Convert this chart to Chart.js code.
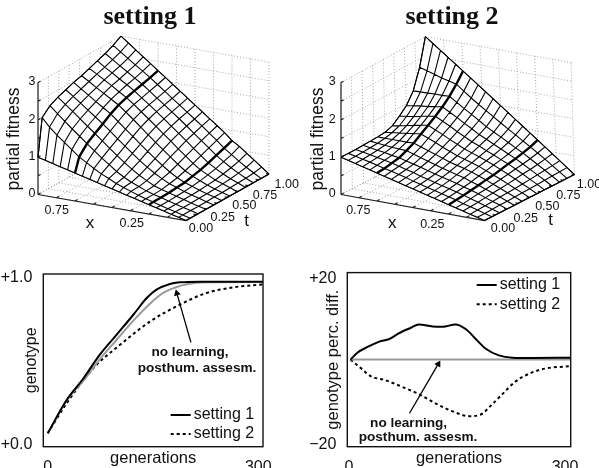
<!DOCTYPE html>
<html>
<head>
<meta charset="utf-8">
<title>partial fitness</title>
<script src="https://cdn.jsdelivr.net/npm/chart.js@4"></script>
<style>
    html, body { margin: 0; padding: 0; background: #fff; overflow: hidden; }
    canvas { position: absolute; }
</style>
</head>
<body>
<canvas id="surface1" width="299" height="240" style="left:0;top:0"></canvas>
<canvas id="surface2" width="300" height="240" style="left:299px;top:0"></canvas>
<canvas id="genotype" width="299" height="208" style="left:0;top:260px"></canvas>
<canvas id="percDiff" width="300" height="208" style="left:299px;top:260px"></canvas>
<script>
// x values of the surface lines, the same for both settings
let xGrid = [1, .95, .9, .85, .8, .75, .7, .65, .6, .55, .5, .45, .4, .35, .3, .25, .2, .15, .1, .05, 0];
let heavyX = [.75, .25];

// setting 1: one row per t line, one value per x line
let tGrid1 = [0, .05, .145, .24, .335, .43, .525, .62, .715, .81, .905, 1];
let fitness1 = [
    [1, .95, .9, .85, .8, .75, .7, .65, .6, .55, .5, .45, .4, .35, .3, .25, .2, .15, .1, .05, 0],
    [2, 1.78, 1.6, 1.44, 1.28, 1.12, 1, .88, .77, .68, .58, .51, .44, .37, .31, .26, .2, .15, .1, .05, 0],
    [2.2, 2.02, 1.85, 1.68, 1.52, 1.36, 1.2, 1.04, .9, .75, .63, .53, .45, .37, .31, .26, .2, .15, .1, .05, 0],
    [2.31, 2.15, 2, 1.83, 1.67, 1.51, 1.35, 1.18, 1.02, .87, .73, .6, .49, .39, .32, .27, .21, .16, .1, .05, 0],
    [2.39, 2.25, 2.1, 1.95, 1.8, 1.65, 1.49, 1.32, 1.16, 1, .84, .7, .57, .46, .36, .29, .22, .16, .11, .05, 0],
    [2.47, 2.33, 2.2, 2.06, 1.93, 1.8, 1.63, 1.46, 1.3, 1.13, .97, .81, .66, .52, .4, .31, .24, .17, .11, .06, 0],
    [2.53, 2.41, 2.28, 2.16, 2.04, 1.92, 1.76, 1.6, 1.43, 1.26, 1.09, .93, .77, .61, .47, .36, .27, .19, .12, .06, 0],
    [2.61, 2.49, 2.37, 2.25, 2.12, 2, 1.85, 1.69, 1.53, 1.37, 1.2, 1.04, .87, .71, .55, .41, .31, .21, .14, .07, 0],
    [2.69, 2.56, 2.44, 2.31, 2.19, 2.06, 1.91, 1.76, 1.61, 1.45, 1.29, 1.13, .97, .8, .64, .48, .36, .25, .16, .08, 0],
    [2.77, 2.64, 2.51, 2.38, 2.25, 2.12, 1.97, 1.82, 1.67, 1.52, 1.37, 1.21, 1.05, .89, .73, .56, .43, .3, .19, .09, 0],
    [2.87, 2.73, 2.59, 2.45, 2.32, 2.18, 2.03, 1.88, 1.73, 1.58, 1.43, 1.28, 1.13, .97, .81, .64, .5, .36, .23, .11, 0],
    [3, 2.85, 2.7, 2.55, 2.4, 2.25, 2.1, 1.95, 1.8, 1.65, 1.5, 1.35, 1.2, 1.05, .9, .72, .6, .45, .3, .15, 0]
];

// setting 2
let tGrid2 = [0, .083, .167, .25, .333, .417, .5, .583, .667, .75, .833, .917, 1];
let fitness2 = [
    [1, .95, .9, .85, .8, .75, .7, .65, .6, .55, .5, .45, .4, .35, .3, .25, .2, .15, .1, .05, 0],
    [1, .96, .91, .87, .82, .77, .73, .68, .63, .57, .52, .47, .42, .37, .32, .27, .21, .16, .11, .05, 0],
    [1, .97, .93, .89, .85, .81, .76, .71, .66, .6, .55, .5, .45, .4, .35, .3, .24, .18, .12, .06, 0],
    [1.01, .98, .95, .92, .88, .85, .8, .75, .7, .64, .59, .54, .49, .44, .38, .33, .27, .2, .13, .07, 0],
    [1.02, 1, .98, .96, .95, .94, .88, .82, .76, .7, .64, .59, .54, .49, .42, .36, .29, .22, .15, .07, 0],
    [1.03, 1.03, 1.03, 1.03, 1.03, 1.04, .97, .9, .84, .77, .7, .65, .6, .54, .47, .4, .32, .24, .16, .08, 0],
    [1.05, 1.08, 1.1, 1.13, 1.16, 1.18, 1.1, 1.02, .93, .85, .77, .71, .65, .59, .51, .43, .35, .26, .17, .09, 0],
    [1.12, 1.16, 1.2, 1.24, 1.28, 1.31, 1.22, 1.13, 1.03, .94, .85, .78, .71, .64, .56, .47, .38, .29, .19, .1, 0],
    [1.28, 1.31, 1.34, 1.38, 1.42, 1.45, 1.35, 1.25, 1.14, 1.04, .94, .86, .77, .69, .6, .52, .42, .32, .21, .11, 0],
    [1.46, 1.49, 1.52, 1.54, 1.57, 1.6, 1.49, 1.38, 1.26, 1.15, 1.03, .94, .84, .75, .65, .56, .45, .34, .23, .12, 0],
    [1.75, 1.76, 1.76, 1.77, 1.77, 1.78, 1.65, 1.52, 1.4, 1.27, 1.14, 1.03, .93, .82, .71, .61, .49, .37, .25, .13, 0],
    [2.28, 2.22, 2.16, 2.1, 2.05, 2, 1.85, 1.7, 1.56, 1.43, 1.3, 1.17, 1.04, .92, .79, .67, .54, .41, .27, .14, 0],
    [3, 2.85, 2.7, 2.55, 2.4, 2.25, 2.1, 1.95, 1.8, 1.65, 1.5, 1.35, 1.2, 1.05, .9, .75, .6, .45, .3, .15, 0]
];

// box ticks of the 3D plots
let xTicks = [1, .875, .75, .625, .5, .375, .25, .125, 0];
let tTicks = [0, .125, .25, .375, .5, .625, .75, .875, 1];
let zTicks = [0, .5, 1, 1.5, 2, 2.5, 3];

// bottom left: genotype
let genSolid = [0, 27, 51, 74, 98, 122, 141, 155, 174, 188, 217, 307];
let valSolid = [.07, .27, .40, .54, .66, .78, .88, .93, .964, .974, .978, .978];
let genDotted = [0, 27, 65, 103, 146, 188, 226, 264, 307];
let valDotted = [.07, .25, .46, .60, .74, .84, .91, .944, .962];
let genGrey = [0, 27, 51, 74, 98, 122, 146, 165, 181, 198, 226, 307];
let valGrey = [.07, .267, .385, .513, .629, .745, .848, .912, .942, .962, .974, .976];

// bottom right: percentage difference
let diffGenSolid = [2, 12, 25, 42, 56, 69, 86, 97, 116, 130, 148, 162, 176, 190, 208, 227, 255, 308];
let diffSolid = [.43, 2.17, 3.44, 4.79, 5.42, 6.77, 8.12, 8.91, 8.44, 8.35, 8.91, 7.81, 5.42, 3.05, 1.46, .91, .83, .91];
let diffGenDotted = [2, 16, 30, 51, 74, 97, 120, 143, 167, 183, 197, 213, 231, 250, 273, 308];
let diffDotted = [.43, -1.55, -3.53, -4.56, -6.14, -7.89, -10.1, -12, -13.2, -12.8, -10.66, -7.89, -4.87, -2.97, -1.7, -1.15];
let diffGenGrey = [2, 308];
let diffGrey = [.44, .44];

let FONT = "'Liberation Sans', Arial, sans-serif";

// setup of the two views
let view1 = { x0: 38, y0: 194.5, ux: 148, uy: 26, tx: 83, ty: -46.5, zy: 37.3, tz: 0, uz: 0 };
let view2 = { x0: 42, y0: 194.5, ux: 143.4, uy: 26, tx: 90, ty: -46, zy: 37.3, tz: -1.87, uz: .77 };

function project(view, x, t, z) {
    let u = 1 - x;
    return {
        x: view.x0 + u * (view.ux + view.uz * z) + t * (view.tx + view.tz * z),
        y: view.y0 + u * view.uy + t * view.ty - z * view.zy
    };
}

function gap() {
    return { x: NaN, y: NaN };
}

function creaSuperficie(id, view, tGrid, fitness, title, titleX, labels) {
    let walls = [], thin = [], heavy = [], axes = [];

    // dotted walls and floor
    xTicks.forEach(function (x) {
        walls.push(project(view, x, 1, 0), project(view, x, 1, 3), gap());
        walls.push(project(view, x, 0, 0), project(view, x, 1, 0), gap());
    });
    tTicks.forEach(function (t) {
        walls.push(project(view, 1, t, 0), project(view, 1, t, 3), gap());
        walls.push(project(view, 1, t, 0), project(view, 0, t, 0), gap());
    });
    zTicks.forEach(function (z) {
        walls.push(project(view, 1, 0, z), project(view, 1, 1, z), project(view, 0, 1, z), gap());
    });

    // black box axes with their ticks
    axes.push(project(view, 1, 0, 0), project(view, 1, 0, 3), gap());
    axes.push(project(view, 1, 0, 0), project(view, 0, 0, 0), project(view, 0, 1, 0), gap());
    zTicks.forEach(function (z) {
        axes.push(project(view, 1, 0, z), project(view, 1, .03, z), gap());
    });
    xTicks.forEach(function (x) {
        axes.push(project(view, x, 0, 0), project(view, x, .03, 0), gap());
    });
    tTicks.forEach(function (t) {
        axes.push(project(view, 0, t, 0), project(view, .02, t, 0), gap());
    });

    // surface lines
    fitness.forEach(function (row, i) {
        row.forEach(function (z, j) {
            thin.push(project(view, xGrid[j], tGrid[i], z));
        });
        thin.push(gap());
    });
    xGrid.forEach(function (x, j) {
        let line = fitness.map(function (row, i) {
            return project(view, x, tGrid[i], row[j]);
        });
        let target = heavyX.indexOf(x) >= 0 ? heavy : thin;
        target.push.apply(target, line);
        target.push(gap());
    });

    // outline of the surface, only to hide the walls behind it
    let last = fitness.length - 1, upper = [], lower = [];
    fitness.forEach(function (row, i) {
        upper.push(project(view, 1, tGrid[i], row[0]));
    });
    fitness[last].forEach(function (z, j) {
        upper.push(project(view, xGrid[j], 1, z));
    });
    fitness[0].forEach(function (z, j) {
        lower.push(project(view, xGrid[j], 0, z));
    });
    fitness.forEach(function (row, i) {
        lower.push(project(view, 0, tGrid[i], row[xGrid.length - 1]));
    });

    let c = document.getElementById(id);
    return new Chart(c, {
        type: "scatter",
        data: {
            datasets: [
                { data: walls, showLine: true, borderColor: "#a8a8a8", borderWidth: 1, borderDash: [1, 2], pointRadius: 0, order: 6 },
                { data: upper, showLine: true, borderColor: "#000", borderWidth: 1, backgroundColor: "#fff", fill: "+1", pointRadius: 0, order: 5 },
                { data: lower, showLine: true, borderColor: "#000", borderWidth: 1, pointRadius: 0, order: 5 },
                { data: axes, showLine: true, borderColor: "#222", borderWidth: 1.2, pointRadius: 0, order: 4 },
                { data: thin, showLine: true, borderColor: "#000", borderWidth: 1.1, pointRadius: 0, order: 2 },
                { data: heavy, showLine: true, borderColor: "#000", borderWidth: 2.4, pointRadius: 0, order: 1 }
            ]
        },
        options: {
            responsive: false,
            animation: false,
            events: [],
            layout: { padding: 0 },
            scales: {
                x: { display: false, min: 0, max: c.width },
                y: { display: false, min: 0, max: c.height, reverse: true }
            },
            plugins: {
                legend: { display: false },
                tooltip: { enabled: false },
                panelText: {
                    texts: [
                        { text: title, x: titleX, y: 17, font: "bold 26px 'Liberation Serif', 'Times New Roman', serif" }
                    ].concat(labels)
                }
            }
        }
    });
}

function creaLinee(id, opt) {
    return new Chart(document.getElementById(id), {
        type: "scatter",
        data: { datasets: opt.datasets },
        options: {
            responsive: false,
            animation: false,
            events: [],
            layout: { padding: { top: opt.top, right: opt.right, left: 0, bottom: 0 } },
            scales: {
                x: {
                    min: opt.xMin, max: opt.xMax,
                    afterBuildTicks: function (s) { s.ticks = [{ value: 0 }, { value: 300 }]; },
                    afterFit: function (s) { s.height = 21.3; },
                    grid: { display: false },
                    border: { display: false },
                    ticks: { color: "#111", padding: 3, maxRotation: 0, font: { family: FONT, size: 16 }, callback: function (v) { return v; } },
                    title: { display: true, text: "generations", color: "#111", padding: 0, font: { family: FONT, size: 16.5 } }
                },
                y: {
                    min: opt.yMin, max: opt.yMax,
                    afterBuildTicks: function (s) { s.ticks = opt.yTicks.map(function (v) { return { value: v }; }); },
                    afterFit: function (s) { s.width = opt.yWidth; },
                    grid: { display: false },
                    border: { display: false },
                    ticks: {
                        color: "#111", padding: 3, font: { family: FONT, size: 16 },
                        callback: function (v) { return opt.yLabels[opt.yTicks.indexOf(v)]; }
                    },
                    title: { display: true, text: opt.yTitle, color: "#111", padding: { top: opt.yTitlePad, bottom: 0 }, font: { family: FONT, size: opt.yTitleSize } }
                }
            },
            plugins: {
                legend: { display: false },
                tooltip: { enabled: false },
                panelText: { box: true, legend: opt.legend, texts: opt.texts }
            }
        }
    });
}

function serie(xs, ys, color, width, dash) {
    return {
        data: xs.map(function (x, i) { return { x: x, y: ys[i] }; }),
        showLine: true, borderColor: color, borderWidth: width, borderDash: dash || [],
        cubicInterpolationMode: "monotone", pointRadius: 0
    };
}

// arrow: line between two data positions, triangle head at the tip
function freccia(xs, ys, angle) {
    return {
        data: [{ x: xs[0], y: ys[0] }, { x: xs[1], y: ys[1] }],
        showLine: true, borderColor: "#000", borderWidth: 1.3,
        pointStyle: "triangle", pointRadius: [0, 4], pointRotation: [0, angle],
        pointBackgroundColor: "#000", pointBorderWidth: 0
    };
}

// titles, labels, frame and legend of every panel
Chart.register({
    id: "panelText",
    afterDatasetsDraw: function (chart, args, opts) {
        let ctx = chart.ctx, area = chart.chartArea;
        ctx.save();
        if (opts.box) {
            ctx.strokeStyle = "#111";
            ctx.lineWidth = 1.4;
            ctx.strokeRect(area.left, area.top, area.right - area.left, area.bottom - area.top);
        }
        (opts.legend || []).forEach(function (item) {
            ctx.strokeStyle = "#000";
            ctx.lineWidth = 2;
            ctx.setLineDash(item.dash);
            ctx.beginPath();
            ctx.moveTo(item.x, item.y);
            ctx.lineTo(item.x + 20, item.y);
            ctx.stroke();
            ctx.setLineDash([]);
            ctx.fillStyle = "#111";
            ctx.font = "16px " + FONT;
            ctx.textAlign = "left";
            ctx.textBaseline = "middle";
            ctx.fillText(item.text, item.x + 23, item.y);
        });
        (opts.texts || []).forEach(function (l) {
            ctx.save();
            ctx.fillStyle = "#111";
            ctx.font = l.font || (l.size || 12.5) + "px " + FONT;
            ctx.textAlign = "center";
            ctx.textBaseline = "middle";
            ctx.translate(l.x, l.y);
            if (l.rot) ctx.rotate(l.rot);
            ctx.fillText(l.text, 0, 0);
            ctx.restore();
        });
        ctx.restore();
    }
});

creaSuperficie("surface1", view1, tGrid1, fitness1, "setting 1", 150, [
    { text: "3", x: 32, y: 82 }, { text: "2", x: 32, y: 120 }, { text: "1", x: 32, y: 157 }, { text: "0", x: 32, y: 194 },
    { text: "0.75", x: 56.7, y: 211 }, { text: "0.25", x: 131.7, y: 224 },
    { text: "0.00", x: 201, y: 229 }, { text: "0.25", x: 222.7, y: 217.3 }, { text: "0.50", x: 244.3, y: 206 },
    { text: "0.75", x: 265, y: 195.7 }, { text: "1.00", x: 286.7, y: 184.3 },
    { text: "x", x: 90, y: 223, size: 17 }, { text: "t", x: 246.7, y: 221, size: 17 },
    { text: "partial fitness", x: 14.5, y: 139, size: 17.5, rot: -Math.PI / 2 }
]);

creaSuperficie("surface2", view2, tGrid2, fitness2, "setting 2", 153, [
    { text: "3", x: 33.3, y: 82 }, { text: "2", x: 33.3, y: 120 }, { text: "1", x: 33.3, y: 157 }, { text: "0", x: 33.3, y: 194 },
    { text: "0.75", x: 59.3, y: 211 }, { text: "0.25", x: 133.3, y: 225 },
    { text: "0.00", x: 204, y: 229 }, { text: "0.25", x: 226.7, y: 218.3 }, { text: "0.50", x: 248.3, y: 206.7 },
    { text: "0.75", x: 269.3, y: 195.7 }, { text: "1.00", x: 290, y: 184.3 },
    { text: "x", x: 93.3, y: 223, size: 17 }, { text: "t", x: 251.7, y: 220, size: 17 },
    { text: "partial fitness", x: 19, y: 139, size: 17.5, rot: -Math.PI / 2 }
]);

creaLinee("genotype", {
    top: 14, right: 36, yWidth: 43.3, yTitlePad: 22, yTitleSize: 16,
    xMin: -6.3, xMax: 306.7, yMin: -.01, yMax: 1.024,
    yTicks: [0, 1], yLabels: ["+0.0", "+1.0"], yTitle: "genotype",
    datasets: [
        serie(genSolid, valSolid, "#000", 2),
        serie(genGrey, valGrey, "#999", 2),
        serie(genDotted, valDotted, "#000", 2, [3, 3]),
        freccia([204, 184], [.615, .908], -16)
    ],
    legend: [
        { text: "setting 1", x: 170.7, y: 155, dash: [] },
        { text: "setting 2", x: 170.7, y: 174, dash: [3, 3] }
    ],
    texts: [
        { text: "no learning,", x: 190, y: 92, size: 13.6, font: "bold 13.6px " + FONT },
        { text: "posthum. assesm.", x: 197, y: 108, font: "bold 13.6px " + FONT }
    ]
});

creaLinee("percDiff", {
    top: 10, right: 28.3, yWidth: 48.3, yTitlePad: 25, yTitleSize: 16.5,
    xMin: -2.4, xMax: 307.9, yMin: -20.57, yMax: 21.43,
    yTicks: [-20, 20], yLabels: ["\u221220", "+20"], yTitle: "genotype perc. diff.",
    datasets: [
        serie(diffGenSolid, diffSolid, "#000", 2),
        serie(diffGenGrey, diffGrey, "#999", 2),
        serie(diffGenDotted, diffDotted, "#000", 2, [3, 3]),
        freccia([84, 124], [-12.5, -.6], 30)
    ],
    legend: [
        { text: "setting 1", x: 177.7, y: 25, dash: [] },
        { text: "setting 2", x: 177.7, y: 44.3, dash: [3, 3] }
    ],
    texts: [
        { text: "no learning,", x: 109.6, y: 163, font: "bold 13.6px " + FONT },
        { text: "posthum. assesm.", x: 119, y: 177.5, font: "bold 13.6px " + FONT }
    ]
});
</script>
</body>
</html>
